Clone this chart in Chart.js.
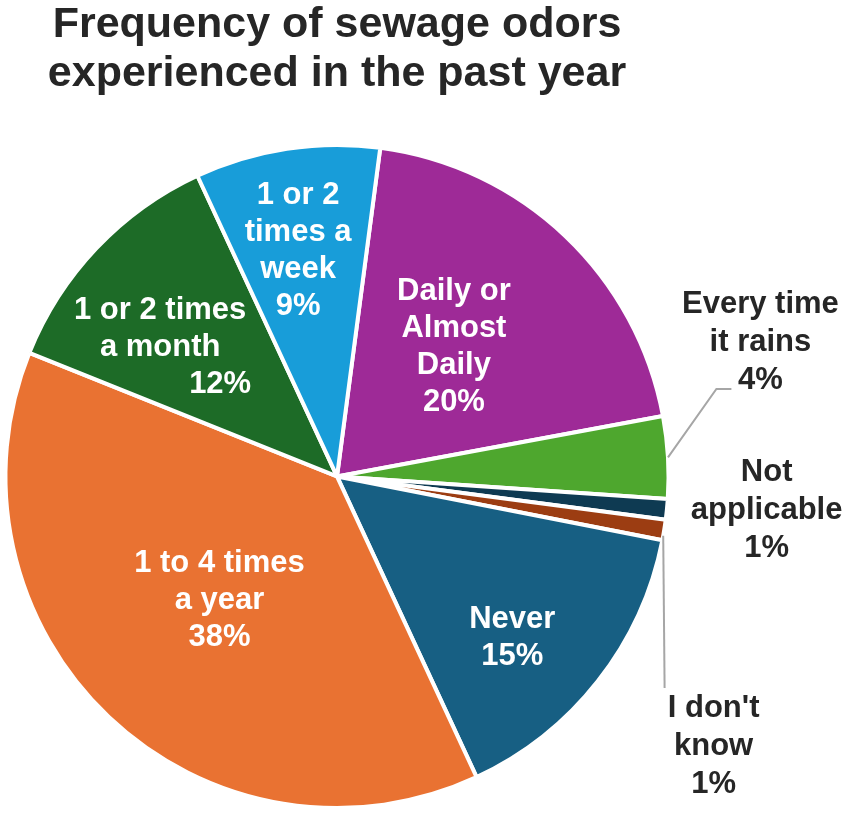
<!DOCTYPE html>
<html>
<head>
<meta charset="utf-8">
<script src="https://cdn.jsdelivr.net/npm/chart.js@4/dist/chart.umd.min.js"></script>
<style>
  html, body { margin: 0; padding: 0; background: #fff; }
  #wrap { width: 851px; height: 814px; position: relative; }
</style>
</head>
<body>
<div id="wrap"><canvas id="pieChart"></canvas></div>
<script>
/* Pie chart: frequency of sewage odors */

const categories = ['Daily or Almost Daily', 'Every time it rains', 'Not applicable', "I don't know",
                    'Never', '1 to 4 times a year', '1 or 2 times a month', '1 or 2 times a week'];
const percentages = [20, 4, 1, 1, 15, 38, 12, 9];
const sliceColors = ['#9e2a97', '#4ea72e', '#0e3a52', '#9c3d12', '#175f83', '#e97232', '#1d6b27', '#189dd9'];

// how each category name is broken over lines on the chart
const labelLines = [
    ['Daily or', 'Almost', 'Daily'],
    ['Every time', 'it rains'],
    ['Not', 'applicable'],
    ["I don't", 'know'],
    ['Never'],
    ['1 to 4 times', 'a year'],
    ['1 or 2 times', 'a month'],
    ['1 or 2', 'times a', 'week']
];

// label placement: r = fraction of radius, da = degrees off the slice middle
const labelSpots = [
    {r: 0.527, da: -1.5, inside: true},
    {r: 1.339, da: -14.2, leader: {from: {r: 1.0, da: 0}, pts: [[-44, 46], [-29, 46]]}},
    {r: 1.30, da: -1.15},
    {r: 1.397, da: 26.3, leader: {from: {r: 1.0, da: 1}, pts: [[-49, -58]]}},
    {r: 0.718, da: 4.5, inside: true},
    {r: 0.515, da: 0, inside: true},
    {r: 0.661, da: -7.3, inside: true, pctDx: 60},
    {r: 0.69, da: -1.1, inside: true}
];

const sliceLabels = {
    id: 'sliceLabels',
    afterDatasetsDraw(chart) {
        const ctx = chart.ctx;
        const arcs = chart.getDatasetMeta(0).data;
        ctx.save();
        ctx.font = 'bold 31px "Liberation Sans", Arial, sans-serif';
        ctx.textAlign = 'center';
        ctx.textBaseline = 'middle';
        arcs.forEach((arc, i) => {
            const p = arc.getProps(['x', 'y', 'startAngle', 'endAngle', 'outerRadius'], true);
            const mid = (p.startAngle + p.endAngle) / 2;
            const polar = (r, da) => {
                const a = mid + da * Math.PI / 180;
                return [p.x + Math.cos(a) * r * p.outerRadius, p.y + Math.sin(a) * r * p.outerRadius];
            };
            const spot = labelSpots[i];
            const [cx, cy] = polar(spot.r, spot.da);

            if (spot.leader) {
                const start = polar(spot.leader.from.r, spot.leader.from.da);
                ctx.beginPath();
                ctx.moveTo(start[0], start[1]);
                spot.leader.pts.forEach(pt => ctx.lineTo(cx + pt[0], cy + pt[1]));
                ctx.strokeStyle = '#a6a6a6';
                ctx.lineWidth = 2;
                ctx.stroke();
            }

            const lines = labelLines[i].concat(percentages[i] + '%');
            const step = spot.inside ? 37 : 38;
            ctx.fillStyle = spot.inside ? '#ffffff' : '#262626';
            lines.forEach((t, j) => {
                const ly = cy + (j - (lines.length - 1) / 2) * step;
                const lx = cx + (j === lines.length - 1 ? (spot.pctDx || 0) : 0);
                ctx.fillText(t, lx, ly);
            });
        });
        ctx.restore();
    }
};

let pieChart = new Chart(document.getElementById('pieChart'), {
    type: 'pie',
    data: {
        labels: categories,
        datasets: [{
            data: percentages,
            backgroundColor: sliceColors,
            borderColor: '#ffffff',
            borderWidth: 4
        }]
    },
    options: {
        responsive: true,
        maintainAspectRatio: false,
        animation: false,
        rotation: 7.5,
        layout: { padding: { left: 0, right: 177, top: 0, bottom: 4 } },
        plugins: {
            legend: { display: false },
            tooltip: { enabled: false },
            title: {
                display: true,
                text: ['Frequency of sewage odors', 'experienced in the past year'],
                color: '#262626',
                font: { family: '"Liberation Sans", Arial, sans-serif', size: 43, weight: 'bold', lineHeight: 1.15 },
                padding: { top: 0, bottom: 44 }
            }
        }
    },
    plugins: [sliceLabels]
});
</script>
</body>
</html>
